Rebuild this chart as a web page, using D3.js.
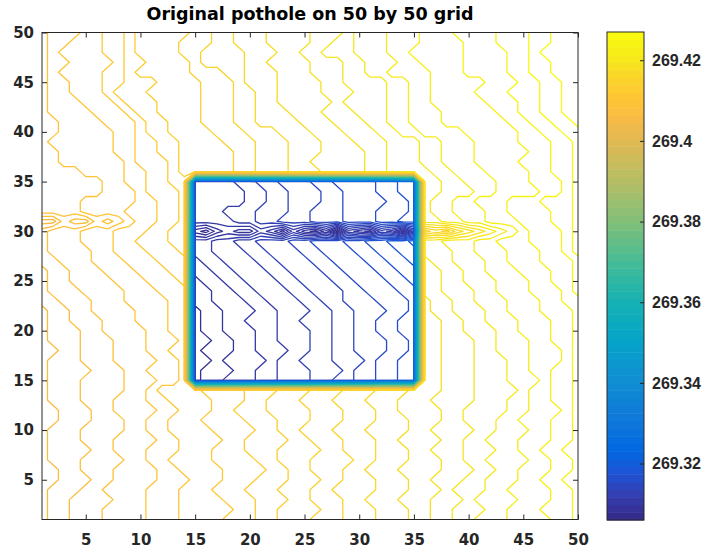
<!DOCTYPE html>
<html>
<head>
<meta charset="utf-8">
<script src="https://cdn.jsdelivr.net/npm/d3@7"></script>
<style>
  html, body { margin: 0; padding: 0; background: #fff; }
  svg { display: block; }
  .tick text { font-family: "DejaVu Sans", sans-serif; font-weight: bold; fill: #262626; }
</style>
</head>
<body>
<script>
// grid of 50 x 50 points.
// each character is one point, written in base 36: value = base + code * codeStep
const gridSize = 50;
const roadBase = 269.40;
const potholeBase = 269.30;
const codeStep = 0.001;
const potholeX = [15, 35];
const potholeY = [15, 35];

// road surface, first string is y = 50, last is y = 1 ('-' = inside the pothole)
const roadRows = [
  "9aaabbccdeeeeeffgghhhiiiijjjklllmmmnnnoooopppqqrrr",
  "9aabbbccdeeeefffgghhhiiiijjkklllmmmnnnnooopppqqrrr",
  "9abbbbccdeeeeffgggghhhiijjkkklllmmnnnnnooooppqrrrr",
  "9aabbbbcddeeeefgggghhiiiijjjkklllmmnnnnooooppqqrrr",
  "9abbbbccdeeeeefffgghhhiiijjjkkllmmmmnnnooooppqqrrr",
  "9aabbbccdddeeeefffghhhiiiijjkkkkllmmnnnnnoooppqqrr",
  "9aabbbcdddeeeeefffgghhiiiijjjkkkllmmnnnnooopppqqrr",
  "9aaabbbcdddeeeefffgghhiiiiijkkkkllmmnnnnnoooppqqrr",
  "9aaaabbbcddeeeefffgghhhiiijjjkkkllmmmnnnnnooppqqrr",
  "99aaaabbbcddeeefffgghhhhiiijjjkkllmmmnnnnnnooppqqr",
  "99aaaaabbcddeeeefffggghhhiiijjjkkllmmmmnnnnnooppqq",
  "9aaaaaabbccddeeeefffggghhhiiijjjkkkllmmmnnnnoooppq",
  "99aaaaabbccddeeeeeffggghhhiiiijjkkkllmmmnnnnnooppq",
  "99aaaaaabcccdeeeeeffggghhiiiiijjkkkllmmmnnnnoooppq",
  "9999aaaabbccdeeeeeffggghhhiiiijjkkkkllmmmnnnnooppq",
  "999999aabbccdd---------------------kkllmmmnnnooopq",
  "999999aaabcccd---------------------kklllmmnnnnoopq",
  "9999aaaaabbccd---------------------kllmmnnnooopppq",
  "9999aaaabbbccd---------------------kllmmmnnooooppq",
  "66877989abbccd---------------------kkllmmnnnoooppq",
  "8999aaabbbccdd---------------------fgfhijklmnooopq",
  "8999aaabbcccdd---------------------kklllmmnnnooopq",
  "89999aabbbcccd---------------------kkkllmmmnnnoopq",
  "88999aaabbbccc---------------------jkklllmmnnnooop",
  "788999aaabbbcc---------------------jjkkllmmmnnnoop",
  "7889999aaabbbc---------------------jjkklllmmmnnoop",
  "78889999aaabbb---------------------jjkkkllmmmnnnop",
  "77888999aaaabb---------------------ijjkklllmmmnnoo",
  "677889999aaabb---------------------ijjkkkllmmmnnno",
  "677888999aaabb---------------------iijjkklllmmmnno",
  "6777889999aabb---------------------iijjkkkllmmmnno",
  "6777888999aaab---------------------iijjjkklllmmnno",
  "6677888999aabb---------------------iijjjkklllmmmno",
  "67778889999aab---------------------iijjjkkkllmmmno",
  "6777788899aaab---------------------iijjjkkkllmmnno",
  "67778888999aab---------------------iijjjkkklllmnno",
  "6777888899abbbbccccdddeeefffggghhhiiijjjkkkklmmnno",
  "6777888999aabbbbcccddeeefffggghhhiiijjjjkkkllmmnno",
  "66777889999aabbbccdddeeeefffggghhiiiijjkkkkllmmmno",
  "6677788899aabbbccccdddeeefffggghhhiiijjkkkllmmmnno",
  "6777888899aabbbbccccddeefffggghhhhiijjjjkklllmmnno",
  "67778889999aabbbbccddddeefffggghhiiiijjkklllmmmnno",
  "6777788999aaabbbcccdddeeeeffggghhhiijjjkkkllmmnnoo",
  "6777888899aabbbbccccddeeeffffgghhhiiijjkkllllmmnno",
  "66778889999aabbbbccccddeefffgghhhiiiijjjkkllmmmnno",
  "66777889999aaabbbcccdddeeeffggghhhiijjjkklllmmnnoo",
  "6777889999aaabbbcccdddeeeffgggghhhiiijkkkllmmmmnno",
  "6778888999aaabbbbcccdddeefffgghhhiiijjjkllllmmmnno",
  "6778889999aaabbbbbccddeeeeffggghhhiijjkkkllmmmnnno",
  "6778889999aaabbbbcccddeeefffggghhhiijjkklllmmmmnno"
];

// pothole floor, first string is y = 35, last is y = 15; columns are x = 15..35
const potholeRows = [
  "bbbbccddeeeffgggghhii",
  "bbbbbccddeeeffggghhii",
  "bbbbbccddeeeffgggghhi",
  "bbbcccdddeefffggghhhi",
  "bbbbccddeeefffggghhii",
  "879a99ba8b98a6ba9cb8c",
  "bbccddeeeffggghhiijjk",
  "bbcccddeeeffggghhiijj",
  "abbcccddeeeffggghhiij",
  "aabbcccddeeeffggghhii",
  "9aabbcccddeeeffggghhi",
  "99aabbcccddeeeffggghh",
  "99aaabbcccddeefffgggh",
  "899aaabbcccddeefffggh",
  "899aabbbccdddeeffgghh",
  "899aaabbcccddeeffgghh",
  "8899aabbcccddeefffggh",
  "8999aabbbccddeefffggh",
  "889aaaabccdddeeefgghh",
  "8999aabbcccdddeffgghh",
  "899aaabbcccddeeffgghh"
];

const xTicks = [5, 10, 15, 20, 25, 30, 35, 40, 45, 50];
const yTicks = [5, 10, 15, 20, 25, 30, 35, 40, 45, 50];
const colorTicks = [269.32, 269.34, 269.36, 269.38, 269.40, 269.42];
const colorTickLabels = ["269.32", "269.34", "269.36", "269.38", "269.4", "269.42"];
const titleText = "Original pothole on 50 by 50 grid";

// parula colormap key colours
const parulaPos = [0, 0.048, 0.095, 0.143, 0.206, 0.286, 0.365, 0.444, 0.524, 0.603, 0.683, 0.762, 0.794, 0.825, 0.857, 0.905, 0.952, 1];
const parulaColors = ["#352a87", "#353dad", "#2053d4", "#0268e1", "#1079da", "#108ed2", "#06a4ca", "#15b1b4", "#42bb98",
  "#7cbf7b", "#aebe67", "#d9ba56", "#e9b94e", "#f8bb44", "#ffc337", "#fad32a", "#f5eb18", "#f9fb0e"];

const W = 709, H = 554;
const plot = { left: 42, right: 578, top: 32.5, bottom: 519.5 };
const bar = { left: 607, right: 644, top: 32, bottom: 520 };

// build the value grid, row 0 = top (y = 50)
const values = new Array(gridSize * gridSize);
roadRows.forEach((row, r) => {
  const gy = gridSize - r;
  for (let c = 0; c < gridSize; c++) {
    const gx = c + 1;
    let v;
    if (gx >= potholeX[0] && gx <= potholeX[1] && gy >= potholeY[0] && gy <= potholeY[1]) {
      v = potholeBase + parseInt(potholeRows[potholeY[1] - gy][gx - potholeX[0]], 36) * codeStep;
    } else {
      v = roadBase + parseInt(row[c], 36) * codeStep;
    }
    values[r * gridSize + c] = v;
  }
});

const [vMin, vMax] = d3.extent(values);
const levels = d3.range(Math.round(vMin * 1000) + 0.5, Math.round(vMax * 1000), 1).map(k => k / 1000);

const color = d3.scaleLinear()
  .domain(parulaPos.map(t => vMin + t * (vMax - vMin)))
  .range(parulaColors);

const contours = d3.contours().size([gridSize, gridSize]).thresholds(levels)(values);

const svg = d3.select("body").append("svg")
  .attr("width", W)
  .attr("height", H);

const x = d3.scaleLinear().domain([1, gridSize]).range([plot.left, plot.right]);
const y = d3.scaleLinear().domain([1, gridSize]).range([plot.bottom, plot.top]);

svg.append("defs").append("clipPath")
    .attr("id", "plot-clip")
  .append("rect")
    .attr("x", plot.left)
    .attr("y", plot.top)
    .attr("width", plot.right - plot.left)
    .attr("height", plot.bottom - plot.top);

// grid point (i, j) sits at contour coordinate (i + 0.5, j + 0.5)
const toScreen = d3.geoTransform({
  point(cx, cy) { this.stream.point(x(cx + 0.5), y(gridSize + 0.5 - cy)); }
});
const path = d3.geoPath(toScreen);

svg.append("g")
    .attr("clip-path", "url(#plot-clip)")
  .selectAll("path")
  .data(contours)
  .join("path")
    .attr("d", path)
    .attr("fill", "none")
    .attr("stroke", d => color(d.value))
    .attr("stroke-width", 1.3)
    .attr("stroke-linejoin", "round");

// axes, ticks point inwards on all four sides
function styleAxis(g) {
  g.attr("font-size", null).attr("font-family", null);
  g.select(".domain").remove();
  g.selectAll(".tick line").attr("stroke", "#262626");
  g.selectAll(".tick text").style("font-size", "15px");
}

svg.append("g")
    .attr("transform", `translate(0,${plot.bottom})`)
    .call(d3.axisBottom(x).tickValues(xTicks).tickSizeInner(-5).tickSizeOuter(0).tickPadding(15))
    .call(styleAxis);

svg.append("g")
    .attr("transform", `translate(0,${plot.top})`)
    .call(d3.axisTop(x).tickValues(xTicks).tickSizeInner(-5).tickSizeOuter(0).tickFormat(""))
    .call(styleAxis);

svg.append("g")
    .attr("transform", `translate(${plot.left},0)`)
    .call(d3.axisLeft(y).tickValues(yTicks).tickSizeInner(-5).tickSizeOuter(0).tickPadding(8))
    .call(styleAxis);

svg.append("g")
    .attr("transform", `translate(${plot.right},0)`)
    .call(d3.axisRight(y).tickValues(yTicks).tickSizeInner(-5).tickSizeOuter(0).tickFormat(""))
    .call(styleAxis);

svg.append("rect")
    .attr("x", plot.left)
    .attr("y", plot.top)
    .attr("width", plot.right - plot.left)
    .attr("height", plot.bottom - plot.top)
    .attr("fill", "none")
    .attr("stroke", "#262626")
    .attr("stroke-width", 1);

// colorbar
const cb = d3.scaleLinear().domain([vMin, vMax]).range([bar.bottom, bar.top]);
const nBands = 64;
const bandStep = (vMax - vMin) / nBands;

svg.append("g")
  .selectAll("rect")
  .data(d3.range(nBands))
  .join("rect")
    .attr("x", bar.left)
    .attr("width", bar.right - bar.left)
    .attr("y", i => cb(vMin + (i + 1) * bandStep))
    .attr("height", i => cb(vMin + i * bandStep) - cb(vMin + (i + 1) * bandStep) + 0.5)
    .attr("fill", i => color(vMin + (i + 0.5) * bandStep));

svg.append("rect")
    .attr("x", bar.left)
    .attr("y", bar.top)
    .attr("width", bar.right - bar.left)
    .attr("height", bar.bottom - bar.top)
    .attr("fill", "none")
    .attr("stroke", "#262626")
    .attr("stroke-width", 1);

svg.append("g")
    .attr("transform", `translate(${bar.right},0)`)
    .call(d3.axisRight(cb).tickValues(colorTicks).tickSizeInner(-4).tickSizeOuter(0).tickPadding(8)
      .tickFormat((d, i) => colorTickLabels[i]))
    .call(styleAxis)
    .call(g => g.selectAll(".tick text")
      .style("font-family", "'Liberation Sans', Arial, sans-serif")
      .style("font-size", "16px"));

svg.append("text")
    .attr("x", (plot.left + plot.right) / 2)
    .attr("y", 20)
    .attr("text-anchor", "middle")
    .style("font-family", "'DejaVu Sans', sans-serif")
    .style("font-weight", "bold")
    .style("font-size", "17.5px")
    .attr("fill", "#000")
    .text(titleText);
</script>
</body>
</html>
